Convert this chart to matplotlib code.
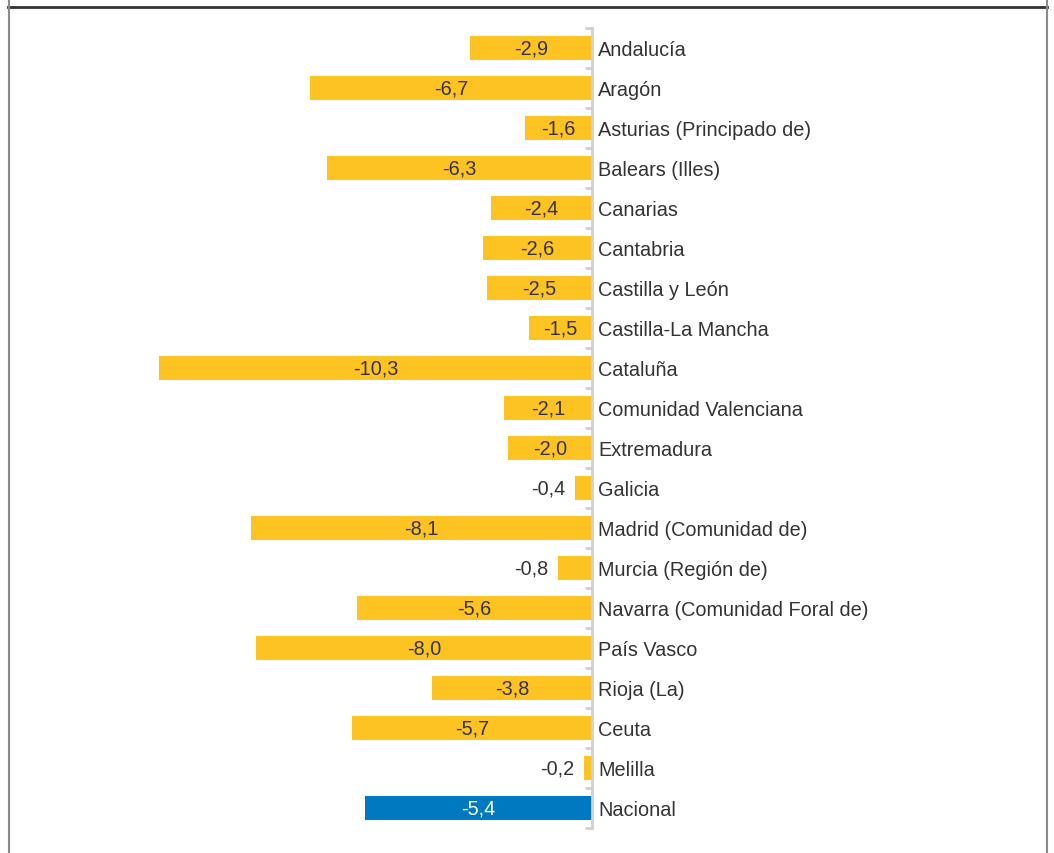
import matplotlib.pyplot as plt
from matplotlib.lines import Line2D
import numpy as np

plt.rcParams['font.family'] = ['Liberation Sans', 'DejaVu Sans']

regions = ['Andalucía', 'Aragón', 'Asturias (Principado de)', 'Balears (Illes)',
           'Canarias', 'Cantabria', 'Castilla y León', 'Castilla-La Mancha',
           'Cataluña', 'Comunidad Valenciana', 'Extremadura', 'Galicia',
           'Madrid (Comunidad de)', 'Murcia (Región de)',
           'Navarra (Comunidad Foral de)', 'País Vasco', 'Rioja (La)', 'Ceuta',
           'Melilla', 'Nacional']
values = [-2.9, -6.7, -1.6, -6.3, -2.4, -2.6, -2.5, -1.5, -10.3, -2.1, -2.0,
          -0.4, -8.1, -0.8, -5.6, -8.0, -3.8, -5.7, -0.2, -5.4]

yellow = '#FDC323'
blue = '#0079C1'
text_col = '#333333'

W, H = 1054, 854
fig = plt.figure(figsize=(W / 100, H / 100), dpi=100)

# axes placed in pixels: zero line at x=592, 42 px per unit
x0_px, scale = 592, 42.04
xmin = -11.0
left_px = x0_px + xmin * scale
ax = fig.add_axes([left_px / W, 25 / H, (x0_px - left_px) / W, 800 / H])

pos = np.arange(len(regions))
colors = [yellow] * (len(regions) - 1) + [blue]
ax.barh(pos, values, height=0.6, color=colors, zorder=2)

ax.set_xlim(xmin, 0)
ax.set_ylim(len(regions) - 0.5, -0.5)

for i, v in enumerate(values):
    lab = f'{v:.1f}'.replace('.', ',')
    if abs(v) >= 1:
        c = 'white' if i == len(values) - 1 else text_col
        ax.text(v / 2, i, lab, ha='center', va='center', fontsize=14.3, color=c)
    else:
        ax.annotate(lab, (v, i), xytext=(-7, 0), textcoords='offset points',
                    ha='right', va='center', fontsize=14.3, color=text_col)

for s in ['left', 'top', 'bottom']:
    ax.spines[s].set_visible(False)
ax.spines['right'].set_color('#d0d0d0')
ax.spines['right'].set_linewidth(2)
ax.set_xticks([])
ax.yaxis.tick_right()
ax.set_yticks(pos)
ax.set_yticklabels(regions, fontsize=14.3, color=text_col)
ax.tick_params(axis='y', which='major', length=0, pad=4.5)
ax.set_yticks(np.arange(-0.5, len(regions), 1), minor=True)
ax.tick_params(axis='y', which='minor', direction='in', length=5, width=2,
               color='#d0d0d0')

# frame around the figure
fig.add_artist(Line2D([8 / W, 1047 / W], [1 - 8 / H, 1 - 8 / H], color='#333333',
                      lw=2, transform=fig.transFigure))
fig.add_artist(Line2D([8.5 / W, 8.5 / W], [0, 1], color='#8a8a8a', lw=1.5,
                      transform=fig.transFigure))
fig.add_artist(Line2D([1046.5 / W, 1046.5 / W], [0, 1], color='#8a8a8a', lw=1.5,
                      transform=fig.transFigure))

fig.savefig('out.png', dpi=100)
